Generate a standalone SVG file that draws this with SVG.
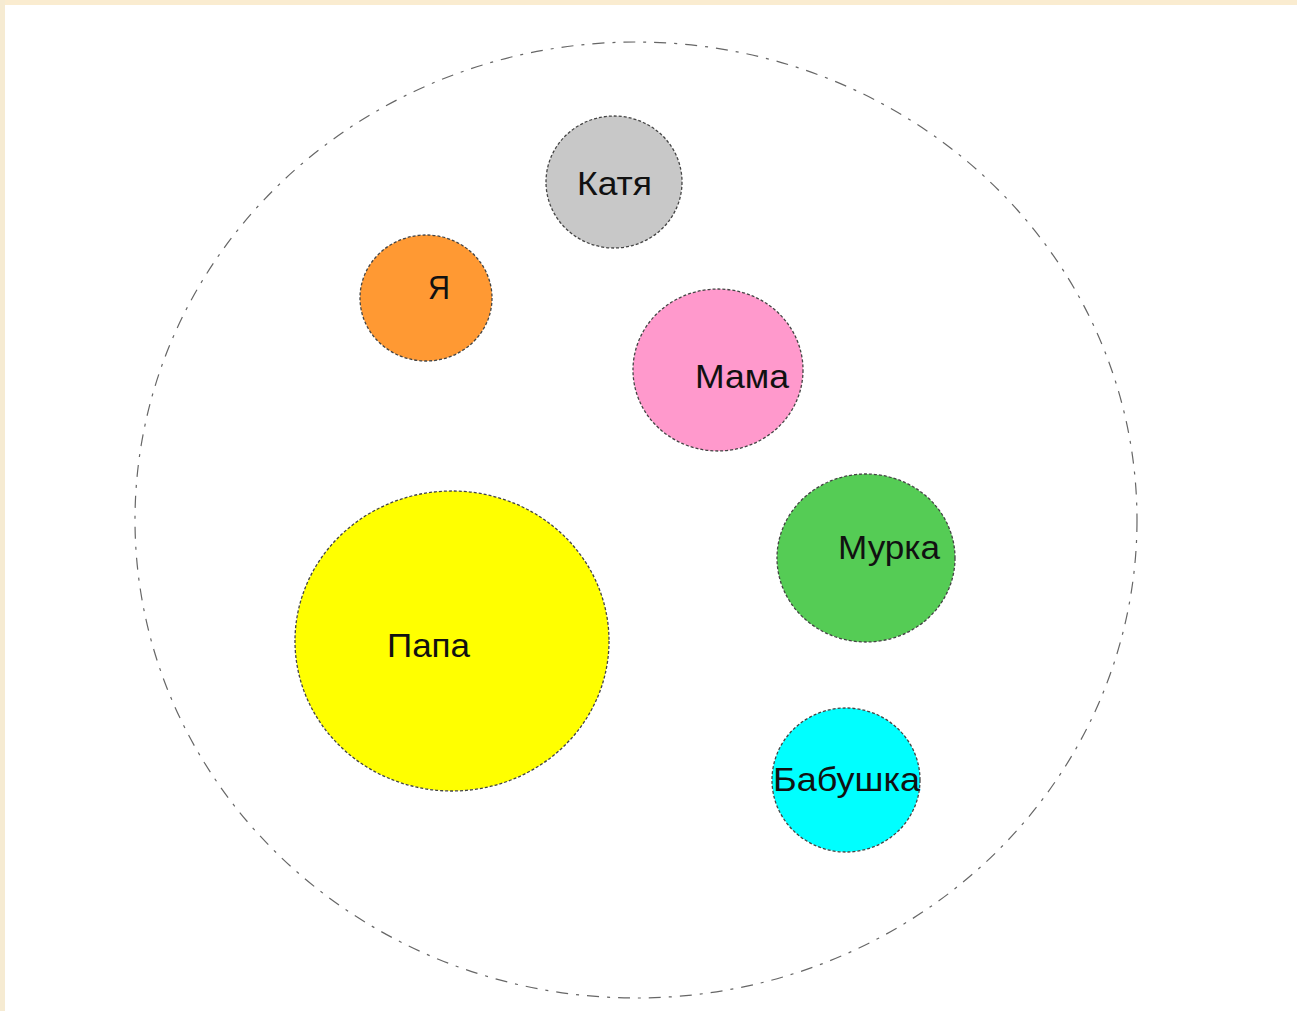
<svg xmlns="http://www.w3.org/2000/svg" width="1297" height="1011" viewBox="0 0 1297 1011">
<style>
.node{stroke:#444;stroke-width:1.3;stroke-dasharray:3 2}
.outer{fill:none;stroke:#666;stroke-width:1.2;stroke-dasharray:12 8 3 8}
.lbl{font-family:"Liberation Sans",Arial,sans-serif;font-size:33px;fill:#111;text-anchor:middle}
</style>
<rect x="0" y="0" width="1297" height="1011" fill="#ffffff"/>
<rect x="0" y="0" width="1297" height="5" fill="#FAECD0"/>
<rect x="0" y="0" width="5" height="1011" fill="#F6EBD2"/>
<g id="family">
<ellipse class="outer" cx="636" cy="520" rx="501" ry="478"/>
</g>
<g id="katya"><ellipse class="node" cx="614" cy="182" rx="68" ry="66" fill="#C8C8C8"/><text class="lbl" x="614.5" y="195" textLength="75" lengthAdjust="spacingAndGlyphs">Катя</text></g>
<g id="ya"><ellipse class="node" cx="426" cy="298" rx="66" ry="63" fill="#FF9933"/><text class="lbl" x="439" y="299" textLength="22" lengthAdjust="spacingAndGlyphs">Я</text></g>
<g id="mama"><ellipse class="node" cx="718" cy="370" rx="85" ry="81" fill="#FF99CC"/><text class="lbl" x="742" y="388" textLength="94" lengthAdjust="spacingAndGlyphs">Мама</text></g>
<g id="murka"><ellipse class="node" cx="866" cy="558" rx="89" ry="84" fill="#55CC55"/><text class="lbl" x="889" y="559" textLength="102" lengthAdjust="spacingAndGlyphs">Мурка</text></g>
<g id="papa"><ellipse class="node" cx="452" cy="641" rx="157" ry="150" fill="#FFFF00"/><text class="lbl" x="428.5" y="657" textLength="83" lengthAdjust="spacingAndGlyphs">Папа</text></g>
<g id="babushka"><ellipse class="node" cx="846" cy="780" rx="74" ry="72" fill="#00FFFF"/><text class="lbl" x="846.5" y="791" textLength="147" lengthAdjust="spacingAndGlyphs">Бабушка</text></g>
<g id="connectors"></g>
</svg>
